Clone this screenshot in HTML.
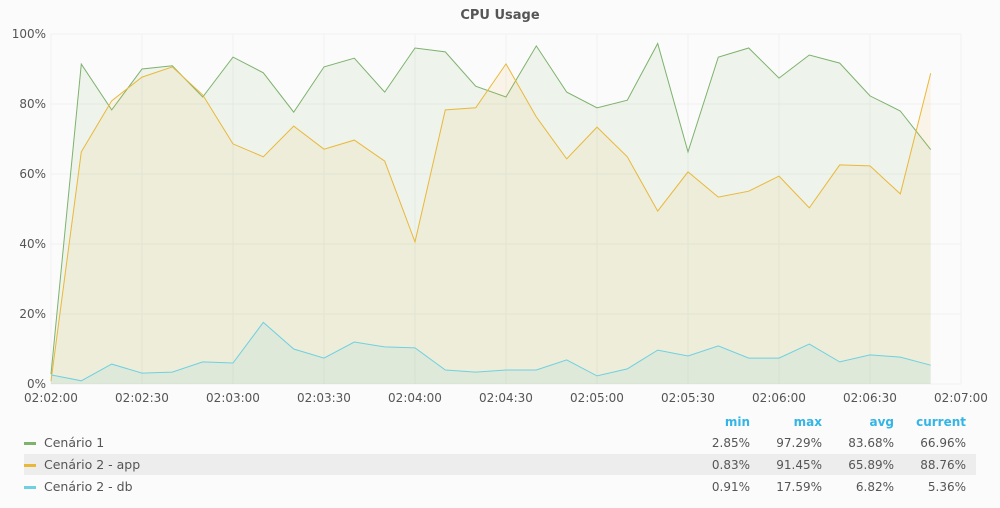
<!DOCTYPE html>
<html><head><meta charset="utf-8"><style>
body{margin:0;background:#fbfbfb;font-family:"DejaVu Sans","Liberation Sans",sans-serif;}
svg text{font-family:"DejaVu Sans","Liberation Sans",sans-serif;}
</style></head><body>
<svg id="c" width="1000" height="504" xmlns="http://www.w3.org/2000/svg">
<rect width="1000" height="504" fill="#fbfbfb"/>
<text x="500" y="19" text-anchor="middle" font-size="13" font-weight="bold" fill="#555">CPU Usage</text>
<g id="grid"></g><g id="series"></g><g id="axes"></g><g id="legend"></g>
</svg>
<script>
const times=[0,10,20,30,40,50,60,70,80,90,100,110,120,130,140,150,160,170,180,190,200,210,220,230,240,250,260,270,280,290];
const cen1=[2.85,91.4,78.3,90,90.9,82,93.4,88.9,77.7,90.6,93.1,83.4,96,94.9,85.1,82,96.6,83.4,78.9,81.1,97.29,66.3,93.4,96,87.4,94,91.7,82.3,78,66.96];
const app=[0.83,66.3,80.9,87.7,90.6,82.6,68.6,64.9,73.7,67.1,69.7,63.7,40.6,78.3,78.9,91.45,76.3,64.3,73.4,64.9,49.4,60.6,53.4,55.1,59.4,50.3,62.6,62.3,54.3,88.76];
const db=[2.6,0.91,5.7,3.1,3.4,6.3,6,17.59,10,7.4,12,10.6,10.3,4,3.4,4,4,6.9,2.3,4.3,9.7,8,10.9,7.4,7.4,11.4,6.3,8.3,7.7,5.36];
const xTicks=["02:02:00","02:02:30","02:03:00","02:03:30","02:04:00","02:04:30","02:05:00","02:05:30","02:06:00","02:06:30","02:07:00"];
const yTicks=[0,20,40,60,80,100];
const names=["Cenário 1","Cenário 2 - app","Cenário 2 - db"];
const colors=["#7eb26d","#eab839","#6ed0e0"];
const mins=["2.85%","0.83%","0.91%"],maxs=["97.29%","91.45%","17.59%"],avgs=["83.68%","65.89%","6.82%"],curs=["66.96%","88.76%","5.36%"];
const NS="http://www.w3.org/2000/svg";
const X0=51,X1=961,Y0=384,Y1=34;
const xs=t=>X0+(X1-X0)*t/300, ys=v=>Y0-(Y0-Y1)*v/100;
function mk(tag,attrs,parent,txt){const e=document.createElementNS(NS,tag);for(const k in attrs)e.setAttribute(k,attrs[k]);if(txt!==undefined)e.textContent=txt;parent.appendChild(e);return e;}
const grid=document.getElementById('grid'),ser=document.getElementById('series'),ax=document.getElementById('axes'),lg=document.getElementById('legend');
yTicks.forEach(v=>{const l=mk('line',{x1:X0,x2:X1,y1:ys(v),y2:ys(v),stroke:'#f0f0f0'},grid);

const t=mk('text',{x:46,y:ys(v)+4,'text-anchor':'end','font-size':12,fill:'#555'},ax,v+'%');
});
xTicks.forEach((s,i)=>{const x=xs(i*30);const l=mk('line',{x1:x,x2:x,y1:Y1,y2:Y0,stroke:'#f0f0f0'},grid);

const t=mk('text',{x:x,y:402,'text-anchor':'middle','font-size':12,fill:'#555'},ax,s);
});
[cen1,app,db].forEach((d,i)=>{const pts=d.map((v,j)=>xs(times[j]).toFixed(1)+','+ys(v).toFixed(1));
const a=mk('polygon',{points:xs(times[0])+','+Y0+' '+pts.join(' ')+' '+xs(times[times.length-1])+','+Y0,fill:colors[i],'fill-opacity':0.1},ser);

const p=mk('polyline',{points:pts.join(' '),fill:'none',stroke:colors[i],'stroke-width':1},ser);
});
mk('rect',{x:24,y:454,width:952,height:21,fill:'#ededed'},lg);
[["min",750],["max",822],["avg",894],["current",966]].forEach(h=>{const t=mk('text',{x:h[1],y:426,'text-anchor':'end','font-size':12,'font-weight':'bold',fill:'#33b5e5'},lg,h[0]);
});
names.forEach((n,i)=>{const y=447+i*22;
const g=mk('g',{},lg);
mk('rect',{x:24,y:y-5,width:12,height:3,fill:colors[i]},g);
mk('text',{x:44,y:y,'font-size':12.5,fill:'#555'},g,n);
[[mins,750],[maxs,822],[avgs,894],[curs,966]].forEach(c=>mk('text',{x:c[1],y:y,'text-anchor':'end','font-size':12,fill:'#555'},g,c[0][i]));});
</script>
</body></html>
